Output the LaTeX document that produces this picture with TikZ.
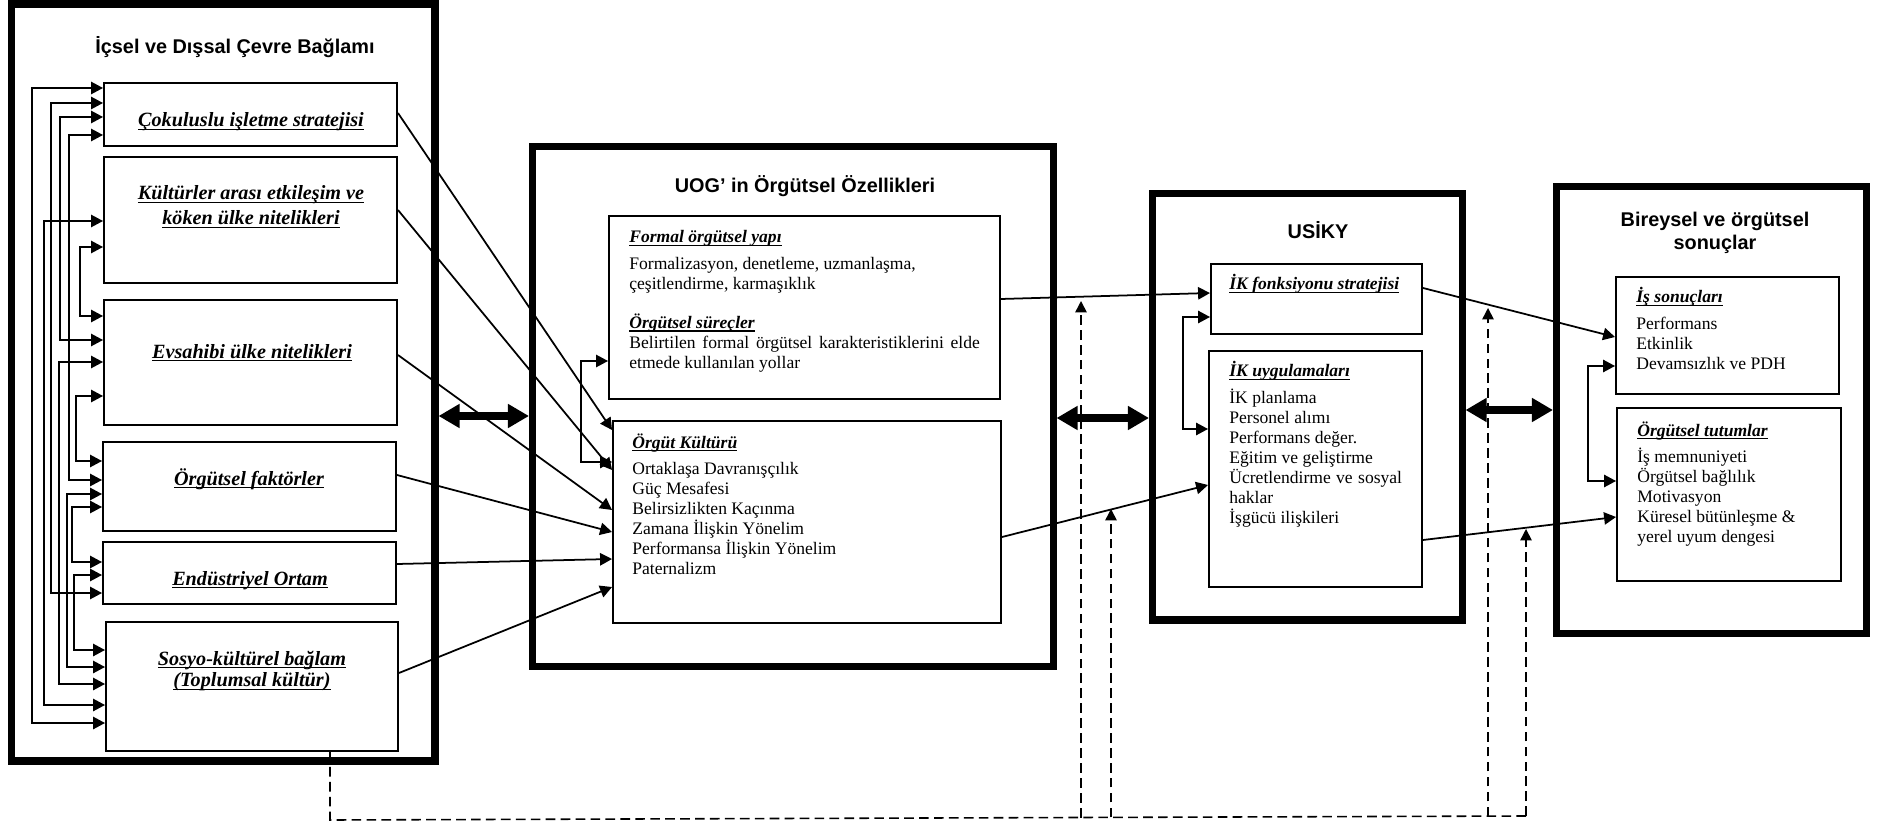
\documentclass[tikz,border=0pt]{standalone}
\usepackage{fontspec}
\setmainfont{Liberation Serif}
\setsansfont{Liberation Sans}
\usetikzlibrary{arrows.meta,fit,calc}

% underline drawn at a fixed depth, crossing descenders
\newcommand{\undl}[1]{\leavevmode\setbox0\hbox{#1}\rlap{\rule[-0.17em]{\wd0}{0.08em}}\box0}
% centred stacked lines, first baseline as reference point
\newcommand{\tlines}[1]{\begin{tabular}[t]{@{}c@{}}#1\end{tabular}}
% left aligned text block with a fixed line pitch
\newcommand{\blines}[2]{\parbox[t]{#1}{\lineskiplimit=-\maxdimen\raggedright\leavevmode #2}}
\newcommand{\txtbody}{\fontsize{10pt}{11.34pt}\selectfont}
\newcommand{\txtleft}{\fontsize{11.5pt}{14.2pt}\selectfont\bfseries\itshape}
\newcommand{\txthead}{\fontsize{11.3pt}{13pt}\selectfont\sffamily\bfseries}
\newcommand{\hd}[1]{\undl{\textbf{\textit{#1}}}}

\begin{document}
\begin{tikzpicture}[x=0.02cm, y=-0.02cm,
  bigbox/.style={draw, line width=4pt, inner sep=0pt},
  inbox/.style={draw, line width=1.1pt, inner sep=0pt},
  lk/.style={line width=1pt, {Triangle[length=6.8pt,width=7pt]}-{Triangle[length=6.8pt,width=7pt]}},
  ar/.style={line width=1pt, -{Triangle[length=6.8pt,width=7pt]}},
  thk/.style={line width=4pt, {Triangle[length=12pt,width=13pt]}-{Triangle[length=12pt,width=13pt]}},
  dsh/.style={line width=0.9pt, dash pattern=on 5.5pt off 3pt},
  dar/.style={dsh, -{Triangle[length=6.5pt,width=6.5pt]}},
  ttl/.style={inner sep=0pt, anchor=base, font=\txthead},
  lt/.style={inner sep=0pt, anchor=base, font=\txtleft},
  bt/.style={inner sep=0pt, anchor=base west, font=\txtbody},
]
\useasboundingbox (0,0) rectangle (1889,827);

% ---- outer frames
\node[bigbox, fit={(11.5,4) (435,761)}] (L) {};
\node[bigbox, fit={(532.5,146.5) (1053,666.5)}] (M) {};
\node[bigbox, fit={(1152.5,193.5) (1462,620)}] (U) {};
\node[bigbox, fit={(1556.5,186.5) (1866.5,633.5)}] (R) {};

\node[ttl] (hL) at (235,54) {İçsel ve Dışsal Çevre Bağlamı};
\node[ttl] (hM) at (805,193) {UOG’ in Örgütsel Özellikleri};
\node[ttl] (hU) at (1318,239) {USİKY};
\node[ttl] (hR) at (1715,227) {\tlines{Bireysel ve örgütsel\\sonuçlar}};

% ---- context boxes
\node[inbox, fit={(104,83) (397,146)}] (b1) {};
\node[inbox, fit={(104,157) (397,283)}] (b2) {};
\node[inbox, fit={(104,300) (397,425)}] (b3) {};
\node[inbox, fit={(103,442) (396,531)}] (b4) {};
\node[inbox, fit={(103,542) (396,604)}] (b5) {};
\node[inbox, fit={(106,622) (398,751)}] (b6) {};

\node[lt] (t1) at (251,127) {\undl{Çokuluslu işletme stratejisi}};
\node[lt] (t2) at (251,200) {\tlines{\undl{Kültürler arası etkileşim ve}\\\undl{köken ülke nitelikleri}}};
\node[lt] (t3) at (252,358) {\undl{Evsahibi ülke nitelikleri}};
\node[lt] (t4) at (249,485) {\undl{Örgütsel faktörler}};
\node[lt] (t5) at (250,585) {\undl{Endüstriyel Ortam}};
\node[lt] (t6) at (252,665) {\tlines{\undl{Sosyo-kültürel bağlam}\\[-1.7pt]\undl{(Toplumsal kültür)}}};

% ---- organisational characteristics
\node[inbox, fit={(609,216) (1000,399)}] (kA) {};
\node[inbox, fit={(613,421) (1001,623)}] (kB) {};

\node[bt] (kAt) at (629,243) {\blines{205pt}{\hd{Formal örgütsel yapı}\\[4pt]
  Formalizasyon, denetleme, uzmanlaşma,\\
  çeşitlendirme, karmaşıklık\\[10.8pt]
  \hd{Örgütsel süreçler}\\
  \makebox[199.5pt][s]{Belirtilen formal örgütsel karakteristiklerini elde}\\
  etmede kullanılan yollar}};
\node[bt] (kBt) at (632,448) {\blines{200pt}{\hd{Örgüt Kültürü}\\[4pt]
  Ortaklaşa Davranışçılık\\ Güç Mesafesi\\ Belirsizlikten Kaçınma\\
  Zamana İlişkin Yönelim\\ Performansa İlişkin Yönelim\\ Paternalizm}};

% ---- HRM boxes
\node[inbox, fit={(1211,264) (1422,334)}] (u1) {};
\node[inbox, fit={(1209,351) (1422,587)}] (u2) {};

\node[bt] (u1t) at (1229,290) {\hd{İK fonksiyonu stratejisi}};
\node[bt] (u2t) at (1229,377) {\blines{110pt}{\hd{İK uygulamaları}\\[4pt]
  İK planlama\\ Personel alımı\\ Performans değer.\\ Eğitim ve geliştirme\\
  \makebox[98.3pt][s]{Ücretlendirme ve sosyal}\\ haklar\\ İşgücü ilişkileri}};

% ---- outcome boxes
\node[inbox, fit={(1616,277) (1839,394)}] (r1) {};
\node[inbox, fit={(1617,408) (1841,581)}] (r2) {};

\node[bt] (r1t) at (1636,303) {\blines{115pt}{\hd{İş sonuçları}\\[4pt]
  Performans\\ Etkinlik\\ Devamsızlık ve PDH}};
\node[bt] (r2t) at (1637,436) {\blines{115pt}{\hd{Örgütsel tutumlar}\\[4pt]
  İş memnuniyeti\\ Örgütsel bağlılık\\ Motivasyon\\
  Küresel bütünleşme \&\\ yerel uyum dengesi}};

% ---- mutual links among context factors
\draw[lk] (b1.west |- 0,88)  -| (32,723) -- (b6.west |- 0,723);
\draw[lk] (b2.west |- 0,221) -| (44,705) -- (b6.west |- 0,705);
\draw[lk] (b1.west |- 0,103) -| (51,593) -- (b5.west |- 0,593);
\draw[lk] (b1.west |- 0,117) -| (60,340) -- (b3.west |- 0,340);
\draw[lk] (b3.west |- 0,362) -| (59,684) -- (b6.west |- 0,684);
\draw[lk] (b1.west |- 0,135) -| (69,480) -- (b4.west |- 0,480);
\draw[lk] (b2.west |- 0,247) -| (80,316) -- (b3.west |- 0,316);
\draw[lk] (b3.west |- 0,396) -| (76,461) -- (b4.west |- 0,461);
\draw[lk] (b4.west |- 0,494) -| (67,667) -- (b6.west |- 0,667);
\draw[lk] (b4.west |- 0,507) -| (72,562) -- (b5.west |- 0,562);
\draw[lk] (b5.west |- 0,575) -| (74,650) -- (b6.west |- 0,650);

% ---- context factors into organisational culture
\draw[ar] (b1.east |- 0,113) -- (kB.west |- 0,430);
\draw[ar] (b2.east |- 0,210) -- (kB.west |- 0,470);
\draw[ar] (b3.east |- 0,355) -- (kB.west |- 0,510);
\draw[ar] (b4.east |- 0,475) -- (kB.west |- 0,532);
\draw[ar] (b5.east |- 0,564) -- (kB.west |- 0,559);
\draw[ar] (b6.east |- 0,673) -- (kB.west |- 0,587);

% ---- inner mutual links
\draw[lk] (kA.west |- 0,361) -| (581,462) -- (kB.west |- 0,462);
\draw[lk] (u1.west |- 0,317) -| (1183,429) -- (u2.west |- 0,429);
\draw[lk] (r1.west |- 0,366) -| (1588,481) -- (r2.west |- 0,481);

% ---- forward links
\draw[ar] (kA.east |- 0,299) -- (u1.west |- 0,293);
\draw[ar] (kB.east |- 0,537) -- (u2.west |- 0,485);
\draw[ar] (u1.east |- 0,288) -- (r1.west |- 0,337);
\draw[ar] (u2.east |- 0,540) -- (r2.west |- 0,517);

% ---- links between frames
\draw[thk] (L.east |- 0,416) -- (M.west |- 0,416);
\draw[thk] (M.east |- 0,418) -- (U.west |- 0,418);
\draw[thk] (U.east |- 0,410) -- (R.west |- 0,410);

% ---- moderating effect of the social-cultural context
\coordinate (dc) at (330,820);
\coordinate (dr) at (1526,816);
\coordinate (f1) at (1081,817.5);
\coordinate (f2) at (1111,817.3);
\coordinate (f3) at (1488,816.2);
\coordinate (m1) at (1081,301);
\coordinate (m2) at (1111,509);
\coordinate (m3) at (1488,308);
\coordinate (m4) at (1526,529);
\draw[dsh] (b6.south -| dc) -- (dc) -- (dr);
\draw[dar] (f1) -- (m1);
\draw[dar] (f2) -- (m2);
\draw[dar] (f3) -- (m3);
\draw[dar] (dr) -- (m4);
\end{tikzpicture}
\end{document}
